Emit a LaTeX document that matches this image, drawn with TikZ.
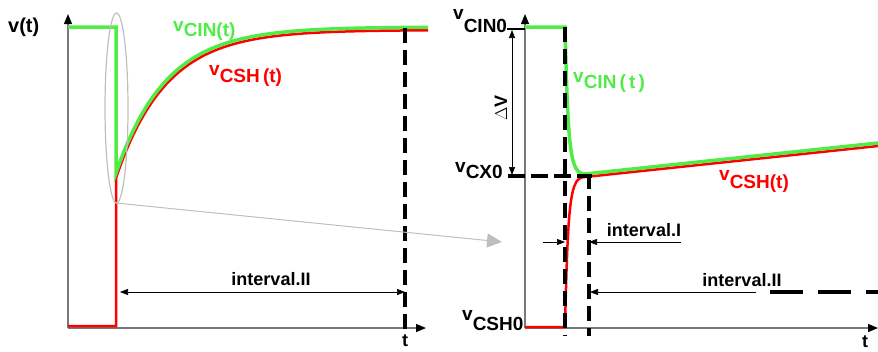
\documentclass[tikz,border=0pt]{standalone}
\usepackage{fontspec}
\setmainfont{Liberation Sans}
\usetikzlibrary{arrows.meta}
\definecolor{cgreen}{RGB}{80,236,70}
\definecolor{cred}{RGB}{255,0,0}
\definecolor{axgray}{RGB}{120,120,120}
\definecolor{lgray}{RGB}{190,190,190}
\newcommand{\sublab}[3]{#1\raisebox{-#3pt}{#2}}
\begin{document}
\begin{tikzpicture}[x=1pt,y=-1pt,
  lbl/.style={font=\fontsize{18}{20}\selectfont\bfseries, inner sep=0pt},
  vlbl/.style={font=\fontsize{19}{21}\selectfont\bfseries, inner sep=0pt, anchor=base west},
  axis/.style={draw=axgray, line width=1.2pt, -{Triangle[length=10pt,width=8pt,black]}},
  vdash/.style={black, line width=3.5pt, dash pattern=on 15pt off 7pt},
  hdash/.style={black, line width=4pt, dash pattern=on 33pt off 15pt},
  dim/.style={black, line width=0.7pt},
  tipr/.style={-{Triangle[length=8pt,width=6pt]}},
  tipb/.style={{Triangle[length=8pt,width=6pt]}-{Triangle[length=8pt,width=6pt]}},
  greencurve/.style={cgreen, line width=3.5pt},
  redcurve/.style={cred, line width=2.5pt},
  zoomline/.style={lgray, line width=1pt},
]
\useasboundingbox (0,0) rectangle (878,351);

% ---------- left panel ----------
\coordinate (O1) at (68,328);
\coordinate (Y1) at (68,14);
\coordinate (X1) at (426,328);
\draw[axis] (O1) -- (Y1);
\draw[axis] (O1) -- (X1);

\draw[redcurve] (68,326) -- (116,326) -- (116,178)
  -- plot[domain=116:428, samples=90] (\x, {30+148*exp(-(\x-116)/50)});
\draw[greencurve] (68,27) -- (116,27) -- (116,173)
  -- plot[domain=116:428, samples=90] (\x, {27+146*exp(-(\x-116)/50)});

\coordinate (D1t) at (405,28);
\coordinate (D1b) at (405,335);
\draw[vdash] (D1t) -- (D1b);

\draw[lgray, line width=1.2pt] (116.5,108) ellipse [x radius=11.5pt, y radius=95pt];
\coordinate (Zs) at (116,203);
\coordinate (Ze) at (502,242);
\draw[zoomline, -{Triangle[length=15pt,width=14pt,fill=lgray]}] (Zs) -- (Ze);

\coordinate (I2a) at (120,292);
\coordinate (I2b) at (405,292);
\draw[dim, tipb] (I2a) -- (I2b);

\node[vlbl, font=\fontsize{20}{22}\selectfont\bfseries] (vt) at (8,32) {v(t)};
\node[vlbl, cgreen] (gl1) at (173,31) {\sublab{v}{CIN(t)}{5}};
\node[vlbl, cred] (rl1) at (209,75) {\sublab{v}{CSH\,(t)}{7}};
\node[lbl] (iv2l) at (271,279) {interval.II};
\node[lbl] (t1) at (405,341) {t};

% ---------- right panel ----------
\coordinate (O2) at (525,328);
\coordinate (Y2) at (525,14);
\coordinate (X2) at (878,328);
\draw[axis] (O2) -- (Y2);
\draw[axis] (O2) -- (X2);

\draw[redcurve] (525,327) -- (565,327) .. controls (568,200) and (570,177) .. (585,177) -- (878,146);
\draw[greencurve] (525,27) -- (565,27) .. controls (568,150) and (570,174) .. (585,174) -- (878,143);

\coordinate (D2t) at (565,27);
\coordinate (D2b) at (565,336);
\coordinate (D3t) at (589,174);
\coordinate (D3b) at (589,336);
\coordinate (Hx0a) at (508,176);
\coordinate (Hx0b) at (592,176);
\draw[vdash] (D2t) -- (D2b);
\draw[vdash] (D3t) -- (D3b);
\draw[vdash, dash pattern=on 17pt off 6pt] (Hx0a) -- (Hx0b);

\coordinate (Tk1) at (507,29);
\coordinate (Tk2) at (525,29);
\draw[black, line width=2pt] (Tk1) -- (Tk2);
\coordinate (dVa) at (512,30);
\coordinate (dVb) at (512,175);
\draw[dim, tipb] (dVa) -- (dVb);
\node[lbl, rotate=90] (dV) at (501,108) {$\Delta$V};

\coordinate (I1a) at (543,242);
\coordinate (I1b) at (681,242);
\draw[dim, tipr] (I1a) -- (565,242);
\draw[dim, tipr] (I1b) -- (589,242);
\coordinate (I2c) at (756,292);
\draw[dim, tipr] (I2c) -- (590,292);
\coordinate (H2a) at (770,292);
\coordinate (H2b) at (878,292);
\draw[hdash] (H2a) -- (H2b);

\node[vlbl] (vcin0) at (453,19) {\sublab{v}{CIN0}{13}};
\node[vlbl] (vcx0) at (455,172) {\sublab{v}{CX0}{6}};
\node[vlbl] (vcsh0) at (462,320) {\sublab{v}{CSH0}{10}};
\node[vlbl, cgreen] (gl2) at (573,82) {\sublab{v}{CIN\,(\,t\,)}{6}};
\node[vlbl, cred] (rl2) at (719,180) {\sublab{v}{CSH(t)}{8}};
\node[lbl] (iv1) at (644,230) {interval.I};
\node[lbl] (iv2r) at (742,280) {interval.II};
\node[lbl] (t2) at (865,342) {t};
\end{tikzpicture}
\end{document}
